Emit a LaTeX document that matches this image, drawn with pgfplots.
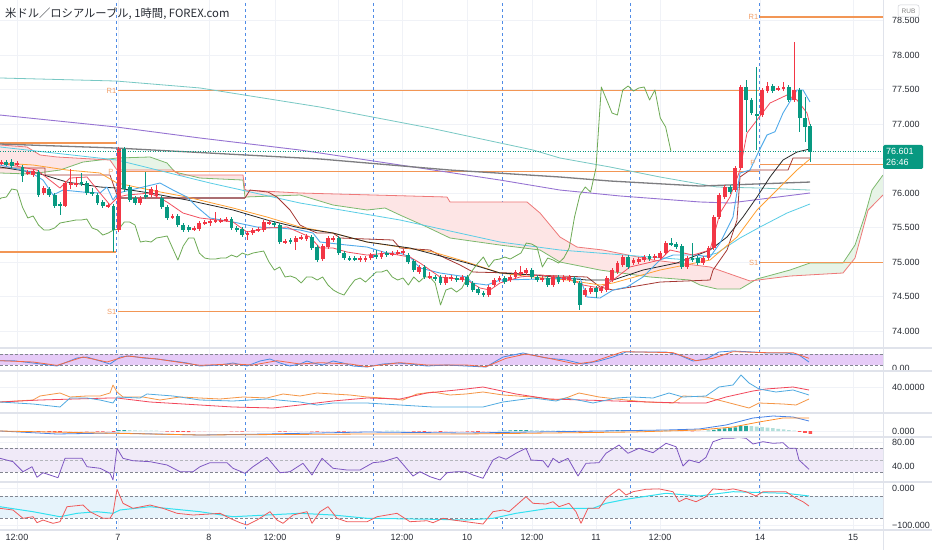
\documentclass[border=0pt]{standalone}
\usepackage{fontspec}
\setmainfont{Liberation Sans}
\newfontfamily\jpfont{Noto Sans CJK JP}
\usepackage{pgfplots}
\usepackage{pgfplotstable}
\pgfplotsset{compat=1.18}

\definecolor{upc}{RGB}{242,54,69}
\definecolor{dnc}{RGB}{8,153,129}
\definecolor{gridc}{RGB}{240,242,247}
\definecolor{sessc}{RGB}{80,140,230}
\definecolor{sepc}{RGB}{224,227,235}
\definecolor{lblc}{RGB}{40,44,52}
\definecolor{pivc}{RGB}{242,150,85}
\definecolor{pivl}{RGB}{242,160,105}
\definecolor{tealA}{RGB}{120,200,196}
\definecolor{purpA}{RGB}{150,115,210}
\definecolor{grayA}{RGB}{125,125,128}
\definecolor{cyanA}{RGB}{90,205,230}
\definecolor{blackA}{RGB}{40,40,40}
\definecolor{orangeA}{RGB}{255,160,50}
\definecolor{redA}{RGB}{242,80,95}
\definecolor{blueT}{RGB}{80,170,235}
\definecolor{kijun}{RGB}{165,55,50}
\definecolor{mauve}{RGB}{175,140,150}
\definecolor{spanAc}{RGB}{125,185,110}
\definecolor{spanBc}{RGB}{238,120,120}
\definecolor{chik}{RGB}{110,170,85}
\definecolor{cloudred}{RGB}{253,229,229}
\definecolor{cloudgreen}{RGB}{231,244,231}
\definecolor{stband}{RGB}{230,203,247}
\definecolor{rsiband}{RGB}{240,234,248}
\definecolor{wrband}{RGB}{230,243,251}
\definecolor{lvl}{RGB}{130,133,144}
\definecolor{stK}{RGB}{70,140,230}
\definecolor{stD}{RGB}{245,105,70}
\definecolor{dmiO}{RGB}{245,150,70}
\definecolor{dmiR}{RGB}{242,70,90}
\definecolor{dmiB}{RGB}{80,170,225}
\definecolor{macdB}{RGB}{70,130,230}
\definecolor{macdO}{RGB}{255,140,40}
\definecolor{hDT}{RGB}{38,166,154}
\definecolor{hLT}{RGB}{178,223,219}
\definecolor{hDR}{RGB}{255,82,82}
\definecolor{hLR}{RGB}{255,205,210}
\definecolor{rsiP}{RGB}{126,87,194}
\definecolor{wrR}{RGB}{240,90,90}
\definecolor{wrC}{RGB}{50,225,240}

\newcommand{\tickfont}{\fontsize{9}{10.5}\selectfont}

% hourly candles: i = bar index, u = 1 rising (red), 0 falling (green)
\pgfplotstableread{
i u o h l c
0 1 76.435 76.478 76.406 76.449
1 0 76.449 76.478 76.391 76.406
2 0 76.449 76.493 76.362 76.391
3 1 76.420 76.464 76.391 76.435
4 0 76.377 76.406 76.159 76.246
5 1 76.290 76.333 76.261 76.304
6 1 76.261 76.348 76.232 76.319
7 0 76.304 76.333 75.942 75.971
8 1 76.000 76.101 75.971 76.072
9 0 76.058 76.087 75.942 75.971
10 0 75.971 76.000 75.783 75.812
11 0 75.841 75.870 75.681 75.812
12 1 75.812 76.174 75.797 76.145
13 1 76.130 76.348 76.058 76.145
14 1 76.116 76.232 76.087 76.145
15 0 76.159 76.290 76.101 76.130
16 0 76.145 76.174 75.971 76.000
17 0 76.014 76.072 75.957 75.986
18 0 75.971 76.000 75.826 75.855
19 0 75.870 75.899 75.783 75.812
20 1 75.812 75.855 75.783 75.826
21 0 75.812 75.841 75.145 75.464
22 1 75.464 76.667 75.435 76.638
23 0 76.638 76.667 76.014 76.058
24 0 76.087 76.116 75.870 75.899
25 0 75.928 75.957 75.826 75.855
26 1 75.855 75.957 75.826 75.928
27 0 75.971 76.304 75.913 75.942
28 1 75.971 76.087 75.942 76.058
29 1 75.957 76.116 75.928 76.043
30 0 75.928 75.957 75.768 75.797
31 0 75.797 75.826 75.609 75.638
32 1 75.652 75.696 75.623 75.667
33 0 75.667 75.696 75.507 75.536
34 0 75.536 75.565 75.435 75.464
35 0 75.507 75.536 75.435 75.464
36 1 75.478 75.522 75.449 75.493
37 1 75.478 75.594 75.449 75.565
38 1 75.565 75.609 75.536 75.580
39 1 75.565 75.623 75.522 75.594
40 1 75.594 75.725 75.565 75.609
41 1 75.594 75.638 75.565 75.609
42 1 75.594 75.652 75.580 75.623
43 0 75.623 75.652 75.464 75.493
44 0 75.493 75.522 75.435 75.464
45 0 75.478 75.507 75.362 75.391
46 1 75.391 75.449 75.319 75.420
47 1 75.420 75.493 75.391 75.464
48 1 75.464 75.507 75.435 75.478
49 1 75.464 75.609 75.435 75.580
50 1 75.565 75.609 75.536 75.580
51 0 75.565 75.594 75.507 75.536
52 0 75.536 75.565 75.261 75.290
53 1 75.290 75.333 75.261 75.304
54 0 75.319 75.348 75.261 75.290
55 1 75.290 75.377 75.174 75.348
56 1 75.348 75.391 75.319 75.362
57 1 75.333 75.406 75.304 75.377
58 0 75.362 75.391 75.174 75.203
59 0 75.217 75.246 75.000 75.029
60 1 75.043 75.261 75.014 75.232
61 1 75.217 75.377 75.188 75.348
62 1 75.319 75.377 75.290 75.348
63 0 75.348 75.377 75.101 75.130
64 0 75.130 75.159 75.029 75.058
65 0 75.058 75.087 75.014 75.043
66 0 75.058 75.087 75.014 75.043
67 1 75.029 75.087 75.000 75.058
68 1 75.029 75.087 75.000 75.058
69 1 75.058 75.130 75.029 75.101
70 0 75.101 75.174 75.043 75.072
71 1 75.072 75.159 75.043 75.130
72 0 75.130 75.159 75.072 75.101
73 1 75.116 75.159 75.087 75.130
74 1 75.130 75.174 75.101 75.145
75 1 75.130 75.188 75.101 75.159
76 0 75.101 75.130 74.971 75.000
77 0 75.014 75.043 74.855 74.884
78 1 74.855 74.957 74.826 74.928
79 0 74.928 74.957 74.754 74.783
80 1 74.783 74.855 74.754 74.797
81 0 74.783 74.812 74.725 74.768
82 0 74.783 74.812 74.667 74.696
83 1 74.696 74.812 74.667 74.783
84 1 74.754 74.812 74.725 74.783
85 0 74.768 74.797 74.710 74.739
86 1 74.739 74.812 74.710 74.783
87 0 74.783 74.812 74.638 74.667
88 0 74.696 74.725 74.565 74.594
89 0 74.609 74.638 74.522 74.551
90 0 74.551 74.580 74.493 74.522
91 1 74.522 74.667 74.493 74.638
92 1 74.667 74.768 74.638 74.739
93 1 74.739 74.797 74.710 74.768
94 0 74.768 74.797 74.681 74.710
95 1 74.739 74.812 74.710 74.783
96 1 74.783 74.884 74.754 74.855
97 1 74.826 74.942 74.797 74.855
98 1 74.841 74.913 74.812 74.884
99 0 74.884 74.913 74.754 74.783
100 0 74.783 74.812 74.710 74.739
101 1 74.739 74.797 74.710 74.768
102 0 74.768 74.797 74.638 74.667
103 1 74.667 74.812 74.638 74.783
104 0 74.783 74.812 74.681 74.710
105 1 74.739 74.812 74.710 74.783
106 1 74.739 74.812 74.710 74.783
107 0 74.768 74.797 74.667 74.696
108 0 74.696 74.725 74.304 74.377
109 1 74.522 74.623 74.493 74.594
110 1 74.565 74.652 74.536 74.623
111 0 74.623 74.652 74.478 74.565
112 1 74.580 74.652 74.551 74.623
113 1 74.594 74.797 74.565 74.768
114 1 74.739 74.913 74.710 74.884
115 1 74.855 75.014 74.826 74.986
116 1 74.957 75.101 74.928 75.072
117 0 75.072 75.101 74.899 74.928
118 1 74.986 75.058 74.957 75.029
119 1 75.000 75.072 74.971 75.043
120 1 75.029 75.101 75.000 75.072
121 0 75.087 75.116 75.014 75.043
122 1 75.058 75.116 75.029 75.087
123 1 75.058 75.159 75.029 75.130
124 1 75.130 75.304 75.101 75.275
125 0 75.275 75.348 75.232 75.261
126 0 75.261 75.290 75.188 75.217
127 0 75.232 75.261 74.899 74.928
128 1 74.928 75.087 74.899 75.058
129 0 75.058 75.275 75.000 75.029
130 0 75.058 75.087 74.957 74.986
131 1 74.986 75.087 74.957 75.058
132 1 75.058 75.232 75.029 75.203
133 1 75.203 75.681 75.174 75.652
134 1 75.652 76.000 75.623 75.971
135 1 75.942 76.116 75.913 76.087
136 0 76.087 76.116 75.986 76.014
137 1 76.043 76.391 76.014 76.362
138 1 76.362 77.565 76.333 77.536
139 0 77.536 77.638 76.884 77.348
140 0 77.348 77.377 77.130 77.159
141 0 77.145 77.826 76.623 77.130
142 1 77.130 77.522 77.101 77.493
143 1 77.478 77.609 77.449 77.551
144 0 77.551 77.580 77.449 77.478
145 1 77.507 77.551 77.478 77.522
146 1 77.507 77.609 77.478 77.536
147 0 77.536 77.565 77.319 77.348
148 1 77.348 78.188 77.319 77.493
149 0 77.493 77.522 76.884 77.087
150 0 77.087 77.391 76.739 76.957
151 0 76.971 77.000 76.449 76.601
}\candles

% MACD histogram: k = 1 rising >0, 2 falling >0, 3 falling <0, 4 rising <0
\pgfplotstableread{
i h k
0 -0.004 4
1 -0.004 4
2 -0.005 3
3 -0.005 4
4 -0.008 3
5 -0.008 4
6 -0.007 4
7 -0.010 3
8 -0.010 4
9 -0.011 3
10 -0.013 3
11 -0.014 3
12 -0.009 4
13 -0.006 4
14 -0.004 4
15 -0.003 4
16 -0.004 3
17 -0.004 4
18 -0.005 3
19 -0.006 3
20 -0.005 4
21 -0.009 3
22 0.008 1
23 0.010 1
24 0.008 2
25 0.006 2
26 0.005 2
27 0.004 2
28 0.004 2
29 0.003 2
30 -0.002 3
31 -0.005 3
32 -0.006 3
33 -0.008 3
34 -0.009 3
35 -0.010 3
36 -0.009 4
37 -0.007 4
38 -0.005 4
39 -0.004 4
40 -0.003 4
41 -0.002 4
42 -0.002 4
43 -0.003 3
44 -0.004 3
45 -0.005 3
46 -0.005 4
47 -0.004 4
48 -0.003 4
49 -0.002 4
50 -0.001 4
51 -0.002 3
52 -0.005 3
53 -0.006 3
54 -0.006 4
55 -0.005 4
56 -0.004 4
57 -0.003 4
58 -0.004 3
59 -0.007 3
60 -0.007 4
61 -0.005 4
62 -0.004 4
63 -0.005 3
64 -0.006 3
65 -0.006 4
66 -0.005 4
67 -0.004 4
68 -0.003 4
69 -0.002 4
70 -0.002 4
71 -0.001 4
72 0.001 1
73 0.002 1
74 0.002 1
75 0.002 2
76 -0.002 3
77 -0.005 3
78 -0.006 3
79 -0.008 3
80 -0.008 4
81 -0.008 4
82 -0.009 3
83 -0.008 4
84 -0.007 4
85 -0.006 4
86 -0.005 4
87 -0.006 3
88 -0.007 3
89 -0.008 3
90 -0.008 4
91 -0.005 4
92 -0.002 4
93 0.002 1
94 0.004 1
95 0.006 1
96 0.008 1
97 0.009 1
98 0.010 1
99 0.009 2
100 0.007 2
101 0.006 2
102 0.004 2
103 0.004 2
104 0.003 2
105 0.003 2
106 0.002 2
107 -0.002 3
108 -0.006 3
109 -0.005 4
110 -0.004 4
111 -0.003 4
112 -0.001 4
113 0.002 1
114 0.005 1
115 0.008 1
116 0.009 1
117 0.008 2
118 0.007 2
119 0.006 2
120 0.006 2
121 0.005 2
122 0.005 2
123 0.004 2
124 0.005 1
125 0.004 2
126 0.002 2
127 -0.002 3
128 -0.002 4
129 -0.003 3
130 -0.003 4
131 -0.001 4
132 0.004 1
133 0.012 1
134 0.020 1
135 0.026 1
136 0.030 1
137 0.036 1
138 0.050 1
139 0.052 1
140 0.048 2
141 0.044 2
142 0.040 2
143 0.034 2
144 0.028 2
145 0.022 2
146 0.016 2
147 0.010 2
148 0.005 2
149 -0.008 3
150 -0.018 3
151 -0.028 3
}\macdh

\pgfplotsset{
  panel/.style={scale only axis, width=883pt, xmin=0, xmax=883, anchor=south west,
    axis line style={draw=none}, tick style={draw=none},
    xtick={17,118,209,275,338,402,467,532,596,660,760,853}, xticklabels={},
    xmajorgrids=true, ymajorgrids=true,
    major grid style={draw=gridc, line width=0.7pt},
    extra x ticks={116,245,373,502,630,759}, extra x tick labels={},
    extra x tick style={major grid style={draw=sessc, line width=0.7pt, dash pattern=on 3pt off 3pt}},
    yticklabel pos=right,
    yticklabel style={anchor=west, inner sep=0pt, xshift=9pt, font=\tickfont, text=lblc},
    xticklabel style={anchor=north, inner sep=0pt, font=\tickfont, text=lblc},
    every axis plot/.append style={line join=round}},
  lvlline/.style={draw=lvl, line width=0.6pt, dash pattern=on 3pt off 2pt},
}

\begin{document}
\begin{tikzpicture}[x=1pt,y=1pt]
\fill[white] (0,0) rectangle (932,550);

% ================= main price panel =================
\begin{axis}[panel, at={(0pt,202pt)}, height=348pt,
  ymin=73.754, ymax=78.797,
  ytick={74,74.5,75,75.5,76,76.5,77,77.5,78,78.5},
  yticklabels={74.000,74.500,75.000,75.500,76.000,{},77.000,77.500,78.000,78.500}]

% Ichimoku cloud: whole band pink, then the spans where A is above B in green
\addplot[fill=cloudred, draw=none] coordinates {
(0,76.696) (27,76.667) (40,76.551) (57,76.522) (110,76.478) (117,76.333) (173,76.333) (180,76.261)
(243,76.261) (245,76.043) (300,76.000) (447,75.942) (450,75.870) (527,75.870) (540,75.710) (560,75.362)
(577,75.217) (603,75.174) (653,75.029) (710,74.928) (750,74.725) (790,74.797) (843,74.841) (855,75.058)
(868,75.750) (883,75.971)
(883,76.261) (872,76.043) (865,75.681) (855,75.246) (843,74.986) (810,74.986) (790,74.884) (757,74.754)
(740,74.609) (717,74.609) (700,74.667) (690,74.739) (650,74.783) (600,74.884) (560,75.000) (540,75.174)
(500,75.246) (450,75.348) (427,75.507) (400,75.681) (385,75.783) (367,75.754) (333,75.826) (300,75.971)
(245,75.942) (243,76.188) (200,76.217) (175,76.304) (167,76.435) (150,76.522) (117,76.507) (83,76.449)
(60,76.333) (30,76.275) (0,76.290)} -- cycle;
\addplot[fill=cloudgreen, draw=none] coordinates {
(105,76.482) (117,76.507) (150,76.522) (167,76.435) (175,76.308) (173,76.333) (117,76.333) (110,76.478)} -- cycle;
\addplot[fill=cloudgreen, draw=none] coordinates {
(755,74.735) (757,74.754) (790,74.884) (810,74.986) (843,74.986) (855,75.246) (865,75.681) (872,76.043)
(883,76.261) (883,75.971) (868,75.750) (855,75.058) (843,74.841) (790,74.797)} -- cycle;

\addplot[draw=spanAc, line width=0.8pt] coordinates {
(0,76.290) (30,76.275) (60,76.333) (83,76.449) (117,76.507) (150,76.522) (167,76.435) (175,76.304)
(200,76.217) (243,76.188) (245,75.942) (300,75.971) (333,75.826) (367,75.754) (385,75.783) (400,75.681)
(427,75.507) (450,75.348) (500,75.246) (540,75.174) (560,75.000) (600,74.884) (650,74.783) (690,74.739)
(700,74.667) (717,74.609) (740,74.609) (757,74.754) (790,74.884) (810,74.986) (843,74.986) (855,75.246)
(865,75.681) (872,76.043) (883,76.261)};
\addplot[draw=spanBc, line width=0.8pt] coordinates {
(0,76.696) (27,76.667) (40,76.551) (57,76.522) (110,76.478) (117,76.333) (173,76.333) (180,76.261)
(243,76.261) (245,76.043) (300,76.000) (447,75.942) (450,75.870) (527,75.870) (540,75.710) (560,75.362)
(577,75.217) (603,75.174) (653,75.029) (710,74.928) (750,74.725) (790,74.797) (843,74.841) (855,75.058)
(868,75.750) (883,75.971)};

% pivot levels
\addplot[draw=pivc, line width=1.1pt] coordinates {(0,76.725) (116,76.725)};
\addplot[draw=pivc, line width=1.1pt] coordinates {(0,75.145) (116,75.145)};
\addplot[draw=pivc, line width=1.1pt] coordinates {(118,77.483) (759,77.483)};
\addplot[draw=pivc, line width=1.1pt] coordinates {(118,76.309) (759,76.309)};
\addplot[draw=pivc, line width=1.1pt] coordinates {(118,74.280) (759,74.280)};
\addplot[draw=pivc, line width=1.1pt] coordinates {(760,78.550) (883,78.550)};
\addplot[draw=pivc, line width=1.1pt] coordinates {(760,76.416) (883,76.416)};
\addplot[draw=pivc, line width=1.1pt] coordinates {(760,74.990) (883,74.990)};

% long moving averages
\addplot[draw=tealA, line width=0.8pt] coordinates {
(0,77.667) (116,77.623) (200,77.522) (320,77.246) (430,76.942) (533,76.623) (560,76.507) (610,76.377)
(660,76.232) (717,76.087) (760,76.072) (810,76.043)};
\addplot[draw=purpA, line width=0.9pt] coordinates {
(0,77.130) (116,76.957) (200,76.797) (300,76.623) (400,76.406) (500,76.188) (560,76.043) (620,75.957)
(700,75.870) (730,75.855) (770,75.928) (810,76.000)};
\addplot[draw=grayA, line width=1.3pt] coordinates {
(0,76.710) (116,76.652) (320,76.493) (450,76.333) (560,76.232) (610,76.174) (700,76.101) (810,76.159)};
\addplot[draw=cyanA, line width=0.8pt] coordinates {
(0,76.667) (117,76.478) (210,76.145) (300,75.855) (400,75.609) (500,75.290) (560,75.174) (650,75.072)
(690,75.029) (717,75.130) (740,75.348) (760,75.507) (787,75.710) (810,75.841)};

% Kijun (base line)
\addplot[draw=mauve, line width=2pt] coordinates {(118,75.928) (245,75.928)};
\addplot[draw=kijun, line width=0.8pt] coordinates {
(0,76.362) (45,76.362) (45,76.261) (110,76.261) (118,75.928) (245,75.928) (250,76.043) (268,76.014)
(277,75.942) (290,75.754) (300,75.536) (310,75.464) (317,75.420) (333,75.420) (340,75.348) (393,75.319)
(400,75.203) (430,75.174) (445,75.058) (460,74.957) (473,74.855) (510,74.841) (533,74.812) (587,74.783)
(600,74.638) (613,74.594) (660,74.710) (710,74.739) (713,74.884) (727,75.174) (737,75.609) (740,76.232)
(750,76.333) (788,76.333) (793,76.507) (810,76.507)};

% shorter averages
\addplot[draw=orangeA, line width=0.8pt] coordinates {
(0,76.435) (33,76.406) (67,76.333) (100,76.290) (117,76.145) (150,76.043) (187,75.942) (233,75.783)
(267,75.652) (300,75.507) (333,75.420) (367,75.290) (400,75.217) (433,75.145) (467,75.000) (500,74.841)
(533,74.783) (567,74.739) (600,74.667) (613,74.696) (660,74.884) (710,75.029) (737,75.362) (757,75.754)
(777,76.043) (797,76.333) (810,76.493)};
\addplot[draw=blackA, line width=0.8pt] coordinates {
(0,76.377) (37,76.290) (67,76.159) (100,76.087) (117,76.072) (150,76.000) (187,75.899) (233,75.754)
(267,75.609) (300,75.493) (333,75.420) (367,75.290) (410,75.203) (467,74.986) (500,74.841) (533,74.812)
(587,74.739) (613,74.739) (643,74.884) (677,74.986) (710,75.174) (727,75.362) (743,75.652) (757,75.942)
(770,76.232) (783,76.478) (797,76.594) (810,76.638)};
\addplot[draw=blueT, line width=0.9pt] coordinates {
(0,76.406) (30,76.304) (43,76.188) (53,75.971) (63,76.043) (83,76.014) (100,76.000) (107,76.087)
(113,75.899) (118,76.000) (160,76.145) (173,76.043) (187,75.942) (197,75.797) (210,75.638) (233,75.580)
(257,75.507) (280,75.493) (300,75.464) (313,75.420) (320,75.290) (347,75.246) (367,75.217) (387,75.130)
(400,75.130) (410,75.072) (420,74.913) (440,74.841) (467,74.783) (472,74.696) (487,74.667) (500,74.739)
(580,74.768) (587,74.493) (600,74.478) (613,74.594) (627,74.638) (643,74.783) (660,75.029) (673,75.101)
(697,75.101) (710,75.072) (720,75.275) (733,75.652) (740,76.290) (750,76.333) (758,76.580) (767,76.841)
(775,76.888) (783,77.159) (797,77.493) (803,77.493) (810,77.319)};
\addplot[draw=redA, line width=0.8pt] coordinates {
(0,76.435) (37,76.333) (60,76.072) (70,76.217) (87,76.232) (100,76.000) (110,75.826) (118,75.942)
(127,75.971) (150,76.000) (167,75.870) (183,75.710) (200,75.638) (217,75.609) (233,75.580) (247,75.435)
(267,75.493) (287,75.507) (310,75.362) (320,75.203) (333,75.203) (347,75.145) (367,75.101) (387,75.130)
(410,75.072) (420,74.986) (440,74.783) (467,74.739) (480,74.623) (490,74.594) (500,74.696) (520,74.783)
(540,74.812) (567,74.768) (583,74.667) (600,74.623) (613,74.739) (630,74.928) (660,75.029) (670,75.174)
(693,75.101) (710,75.174) (720,75.710) (730,75.942) (740,76.333) (747,76.870) (757,77.058) (770,77.304)
(787,77.420) (797,77.348) (807,77.159) (810,76.986)};

% lagging span: closes shifted 26 bars back
\addplot[draw=chik, line width=0.8pt] table[x expr={1+5.36*(\thisrow{i}-26)}, y=c]{\candles};

% candles: wicks then bodies
\addplot[forget plot, draw=none, mark=none, restrict expr to domain={\thisrow{u}}{0.5:1.5},
  error bars/.cd, y dir=both, y explicit, error mark=none,
  error bar style={draw=upc, line width=0.9pt, solid}]
  table[x expr={1+5.36*\thisrow{i}}, y expr={(\thisrow{h}+\thisrow{l})/2},
        y error expr={(\thisrow{h}-\thisrow{l})/2}]{\candles};
\addplot[forget plot, draw=none, mark=none, restrict expr to domain={\thisrow{u}}{-0.5:0.5},
  error bars/.cd, y dir=both, y explicit, error mark=none,
  error bar style={draw=dnc, line width=0.9pt, solid}]
  table[x expr={1+5.36*\thisrow{i}}, y expr={(\thisrow{h}+\thisrow{l})/2},
        y error expr={(\thisrow{h}-\thisrow{l})/2}]{\candles};
\addplot[forget plot, draw=none, mark=none, restrict expr to domain={\thisrow{u}}{0.5:1.5},
  error bars/.cd, y dir=both, y explicit, error mark=none,
  error bar style={draw=upc, line width=3.8pt, solid}]
  table[x expr={1+5.36*\thisrow{i}}, y expr={(\thisrow{o}+\thisrow{c})/2},
        y error expr={max(abs(\thisrow{c}-\thisrow{o})/2,0.006)}]{\candles};
\addplot[forget plot, draw=none, mark=none, restrict expr to domain={\thisrow{u}}{-0.5:0.5},
  error bars/.cd, y dir=both, y explicit, error mark=none,
  error bar style={draw=dnc, line width=3.8pt, solid}]
  table[x expr={1+5.36*\thisrow{i}}, y expr={(\thisrow{o}+\thisrow{c})/2},
        y error expr={max(abs(\thisrow{c}-\thisrow{o})/2,0.006)}]{\candles};

% last price line
\addplot[draw=dnc, line width=0.7pt, dash pattern=on 1pt off 1.5pt] coordinates {(0,76.601) (883,76.601)};

% pivot labels
\node[anchor=east, inner sep=0.5pt, text=pivl, font=\fontsize{7.5}{9}\selectfont] at (axis cs:117,77.483) {R1};
\node[anchor=east, inner sep=0.5pt, text=pivl, font=\fontsize{7.5}{9}\selectfont] at (axis cs:114,76.309) {P};
\node[anchor=east, inner sep=0.5pt, text=pivl, font=\fontsize{7.5}{9}\selectfont] at (axis cs:117,74.280) {S1};
\node[anchor=east, inner sep=0.5pt, text=pivl, font=\fontsize{7.5}{9}\selectfont] at (axis cs:759,78.550) {R1};
\node[anchor=east, inner sep=0.5pt, text=pivl, font=\fontsize{7.5}{9}\selectfont] at (axis cs:756,76.440) {P};
\node[anchor=east, inner sep=0.5pt, text=pivl, font=\fontsize{7.5}{9}\selectfont] at (axis cs:759,74.990) {S1};
\end{axis}

% ================= panel 1: Stoch RSI =================
\begin{axis}[panel, at={(0pt,179pt)}, height=23pt, ymin=-12.7, ymax=112.7,
  ytick={0}, yticklabels={0.00}, ymajorgrids=false]
\addplot[fill=stband, draw=none] coordinates {(0,20) (883,20) (883,80) (0,80)} -- cycle;
\addplot[lvlline] coordinates {(0,80) (883,80)};
\addplot[lvlline] coordinates {(0,20) (883,20)};
\addplot[draw=stK, line width=0.8pt] coordinates {
(0,43.5) (13,43.5) (33,30.9) (57,14.5) (77,58.2) (87,63.6) (100,41.8) (110,25.5) (120,63.6) (130,69.1)
(143,58.2) (157,52.7) (173,41.8) (187,30.9) (200,14.5) (220,20.0) (233,30.9) (247,14.5) (260,41.8)
(270,52.7) (280,30.9) (290,14.5) (300,25.5) (307,41.8) (313,30.9) (323,20.0) (333,41.8) (343,30.9)
(353,14.5) (367,9.1) (383,25.5) (397,30.9) (410,25.5) (427,14.5) (447,20.0) (466,14.5) (486,9.1)
(503,63.6) (523,85.5) (546,58.2) (566,47.3) (583,25.5) (599,41.8) (613,63.6) (626,90.9) (646,90.9)
(666,90.9) (679,74.5) (693,41.8) (706,52.7) (719,90.9) (733,96.4) (753,90.9) (766,85.5) (786,85.5)
(799,74.5) (809,36.4)};
\addplot[draw=stD, line width=0.8pt] coordinates {
(0,43.5) (33,36.4) (57,18.0) (83,63.6) (107,36.4) (127,69.1) (157,52.7) (200,18.2) (233,25.5) (253,20.0)
(277,43.5) (300,25.5) (320,32.7) (350,25.5) (367,10.9) (400,32.7) (427,20.0) (466,20.0) (486,10.9)
(506,56.4) (526,80.0) (549,56.4) (576,25.5) (593,38.0) (623,92.7) (673,87.3) (696,43.5) (713,56.4)
(733,92.7) (766,87.3) (793,87.3) (809,56.4)};
\end{axis}

% ================= panel 2: DMI =================
\begin{axis}[panel, at={(0pt,137pt)}, height=42pt, ymin=14, ymax=56,
  ytick={40}, yticklabels={40.0000}]
\addplot[draw=dmiO, line width=0.8pt] coordinates {
(0,25) (33,27) (40,31) (60,34) (70,30) (87,31) (100,31) (110,34) (113,42) (117,35) (123,30) (143,30)
(160,27) (180,30) (200,29) (220,28) (243,30) (267,29) (283,33) (300,31) (317,34) (333,33) (350,32)
(367,30) (383,29) (403,27) (417,33) (433,35) (450,32) (466,33) (483,35) (503,32) (533,30) (556,27)
(566,29) (579,34) (599,30) (626,27) (646,25) (673,24) (683,31) (706,30) (726,25) (749,19) (759,24)
(783,23) (796,22) (809,28)};
\addplot[draw=dmiR, line width=0.8pt] coordinates {
(0,25) (40,27) (110,29) (117,29) (150,25) (200,22) (233,20) (273,19) (300,22) (333,26) (367,29) (400,28)
(427,34) (466,38) (483,40) (516,33) (549,28) (583,27) (616,26) (649,25) (683,24) (706,24) (726,30)
(753,36) (766,38) (793,40) (809,37)};
\addplot[draw=dmiB, line width=0.8pt] coordinates {
(0,25) (33,23) (60,20) (70,29) (87,29) (100,27) (113,24) (117,30) (140,29) (147,33) (173,31) (200,27)
(233,26) (267,28) (300,25) (317,22) (333,24) (367,24) (400,22) (433,20) (466,20) (483,20) (503,25)
(533,29) (556,26) (566,29) (583,26) (593,24) (616,29) (633,30) (653,29) (669,34) (683,30) (706,31)
(719,40) (733,42) (741,52) (749,44) (759,38) (776,35) (793,37) (809,32)};
\end{axis}

% ================= panel 3: MACD =================
\begin{axis}[panel, at={(0pt,113pt)}, height=24pt, ymin=-0.06, ymax=0.18,
  ytick={0}, yticklabels={0.000}]
\addplot[ybar, bar width=3.6pt, bar shift=0pt, fill=hDT, draw=none,
  restrict expr to domain={\thisrow{k}}{0.5:1.5}] table[x expr={1+5.36*\thisrow{i}}, y=h]{\macdh};
\addplot[ybar, bar width=3.6pt, bar shift=0pt, fill=hLT, draw=none,
  restrict expr to domain={\thisrow{k}}{1.5:2.5}] table[x expr={1+5.36*\thisrow{i}}, y=h]{\macdh};
\addplot[ybar, bar width=3.6pt, bar shift=0pt, fill=hDR, draw=none,
  restrict expr to domain={\thisrow{k}}{2.5:3.5}] table[x expr={1+5.36*\thisrow{i}}, y=h]{\macdh};
\addplot[ybar, bar width=3.6pt, bar shift=0pt, fill=hLR, draw=none,
  restrict expr to domain={\thisrow{k}}{3.5:4.5}] table[x expr={1+5.36*\thisrow{i}}, y=h]{\macdh};
\addplot[draw=macdB, line width=0.8pt] coordinates {
(0,0.0) (57,-0.03) (113,-0.02) (200,-0.04) (267,-0.03) (367,-0.01) (466,-0.02) (533,-0.01) (599,0.0)
(666,0.01) (699,0.02) (726,0.06) (753,0.13) (773,0.15) (793,0.14) (809,0.10)};
\addplot[draw=macdO, line width=0.8pt] coordinates {
(0,0.0) (100,-0.02) (200,-0.04) (367,-0.03) (466,-0.03) (633,-0.01) (699,0.01) (733,0.04) (759,0.09)
(783,0.13) (809,0.13)};
\end{axis}

% ================= panel 4: RSI =================
\begin{axis}[panel, at={(0pt,68pt)}, height=45pt, ymin=13.33, ymax=88.33,
  ytick={40,80}, yticklabels={40.00,80.00}]
\addplot[fill=rsiband, draw=none] coordinates {(0,30) (883,30) (883,70) (0,70)} -- cycle;
\addplot[lvlline] coordinates {(0,70) (883,70)};
\addplot[lvlline, draw=lvl!60] coordinates {(0,50) (883,50)};
\addplot[lvlline] coordinates {(0,30) (883,30)};
\addplot[draw=rsiP, line width=0.8pt] coordinates {
(0,52.8) (13,47.2) (23,30.5) (32,38.8) (37,21.2) (43,28.8) (50,25) (58,20.5) (65,52.8) (82,52.8) (87,38.8)
(100,36.2) (110,27.8) (113,16.7) (117,69.5) (123,52.8) (133,48.8) (150,47.2) (167,41.7) (180,30.5)
(193,30.5) (200,38.8) (210,45.5) (227,45.5) (233,36.2) (245,27.8) (253,38.8) (267,54.5) (280,28.8)
(290,30.5) (303,44.5) (312,25) (322,52.8) (333,36.2) (347,33.3) (360,33.3) (373,45.5) (383,47.2)
(397,54.5) (413,23.3) (420,30.5) (430,22.2) (440,16.7) (447,28.8) (457,30.5) (466,30.5) (473,25)
(483,19.5) (493,50) (499,55.5) (506,51.2) (516,61.2) (526,69.5) (531,50) (543,48.8) (548,37.8)
(553,52.8) (559,45.5) (568,52.8) (578,23.3) (586,44.5) (599,45.5) (606,61.2) (619,75) (628,61.2)
(639,69.5) (653,62.2) (666,77.8) (676,72.2) (683,40) (689,50) (699,45.5) (706,54.5) (713,80.5)
(723,86.2) (733,86.2) (738,87.8) (746,86.2) (753,76.7) (763,80.5) (773,77.8) (783,78.8) (789,69.5)
(796,69.5) (799,50) (809,34.5)};
\end{axis}

% ================= panel 5: Williams %R =================
\begin{axis}[panel, at={(0pt,20pt)}, height=48pt, ymin=-112.6, ymax=18.27,
  ytick={-100,0}, yticklabels={−100.000,0.000},
  xticklabels={12:00,7,8,12:00,9,12:00,10,12:00,11,12:00,14,15},
  xticklabel style={yshift=-4pt}]
\addplot[fill=wrband, draw=none] coordinates {(0,-80) (883,-80) (883,-20) (0,-20)} -- cycle;
\addplot[lvlline] coordinates {(0,-20) (883,-20)};
\addplot[lvlline] coordinates {(0,-80) (883,-80)};
\addplot[draw=wrC, line width=1pt] coordinates {
(0,-49.1) (33,-62.7) (60,-76.4) (77,-67.1) (97,-62.7) (113,-67.1) (120,-58.1) (150,-49.1) (200,-62.7)
(233,-76.4) (267,-71.7) (300,-67.1) (333,-71.7) (367,-80.7) (433,-83.4) (466,-85.4) (493,-80.7)
(516,-67.1) (549,-53.5) (593,-53.5) (606,-39.8) (626,-28.9) (666,-12.5) (699,-19.9) (733,-8.2)
(766,-10.9) (786,-12.5) (809,-19.9)};
\addplot[draw=wrR, line width=0.8pt] coordinates {
(0,-53.5) (13,-58.1) (23,-80.7) (33,-76.4) (37,-92.7) (43,-85.4) (53,-94.4) (60,-90) (67,-49.1) (83,-44.5)
(90,-62.7) (103,-80.7) (110,-80.7) (113,-67.1) (117,-1.6) (123,-39.8) (133,-53.5) (150,-44.5) (163,-53.5)
(177,-67.1) (193,-71.7) (210,-69) (220,-67.1) (230,-80.7) (240,-92.7) (247,-99) (257,-85.4) (270,-62.7)
(277,-85.4) (283,-94.4) (293,-71.7) (307,-62.7) (312,-94.4) (320,-62.7) (328,-49.1) (337,-80.7) (347,-90)
(367,-90) (377,-76.4) (397,-67.1) (410,-90) (427,-87.3) (433,-92.7) (443,-80.7) (453,-85.4) (466,-90)
(483,-96.3) (493,-62.7) (503,-58.1) (509,-62.7) (526,-21.8) (533,-39.8) (546,-41.7) (553,-35.5)
(559,-49.1) (569,-39.8) (576,-62.7) (581,-94.4) (588,-53.5) (599,-53.5) (606,-26.2) (619,-0.5)
(626,-17.2) (633,-8.2) (646,-1.6) (659,-0.5) (673,-8.2) (679,-35.5) (686,-26.2) (696,-35.5) (706,-21.8)
(713,-0.5) (726,-3.5) (733,-0.5) (746,-8.2) (756,-19.9) (763,-8.2) (776,-8.2) (786,-8.2) (796,-26.2)
(803,-35.5) (809,-47.2)};
\end{axis}

% panel separators and price-scale border
\foreach \yy in {202,179,137,113,68,20} {\draw[sepc, line width=1.4pt] (0,\yy) -- (932,\yy);}
\draw[sepc, line width=0.9pt] (883,0) -- (883,550);

% title
\node[anchor=west, inner sep=0pt, text=lblc] at (5,536) {\jpfont\fontsize{11.3}{13}\selectfont 米ドル／ロシアルーブル, 1時間, FOREX.com};

% currency tag
\draw[sepc!80!gray, fill=white, rounded corners=2pt, line width=0.5pt] (898,533) rectangle (919,545);
\node[text=gray, inner sep=0pt, font=\fontsize{6.5}{8}\selectfont] at (908.5,539) {RUB};

% last price tag
\fill[dnc, rounded corners=1.5pt] (883,381) rectangle (923,405);
\node[anchor=west, text=white, inner sep=0pt, font=\fontsize{9}{10.5}\selectfont] at (886,398.5) {76.601};
\node[anchor=west, text=white, inner sep=0pt, font=\fontsize{9}{10.5}\selectfont] at (886,387.5) {26:46};

\pgfresetboundingbox
\useasboundingbox (0,0) rectangle (932,550);
\end{tikzpicture}
\end{document}
